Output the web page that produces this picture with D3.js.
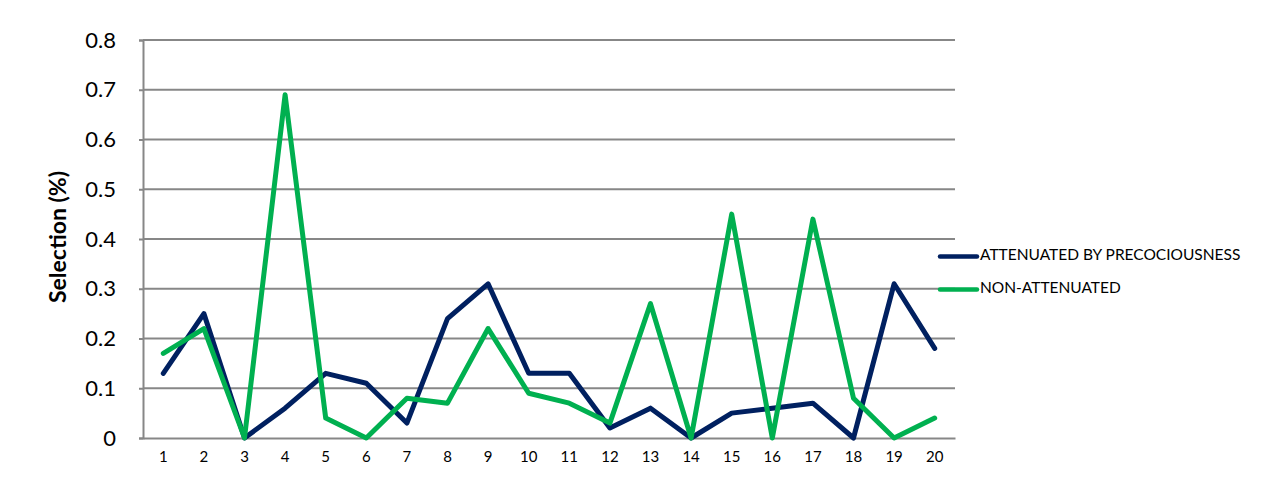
<!DOCTYPE html>
<html>
<head>
<meta charset="utf-8">
<script src="https://cdnjs.cloudflare.com/ajax/libs/d3/7.8.5/d3.min.js"></script>
<style>
  body { margin: 0; background: #fff; }
  text { font-family: Lato, "Open Sans", sans-serif; fill: #000; }
</style>
</head>
<body>
<div id="chart"></div>
<script>
var categories = d3.range(1, 21).map(String)
var attenuated = [0.13, 0.25, 0, 0.06, 0.13, 0.11, 0.03, 0.24, 0.31, 0.13, 0.13, 0.02, 0.06, 0, 0.05, 0.06, 0.07, 0, 0.31, 0.18]
var nonAttenuated = [0.17, 0.22, 0, 0.69, 0.04, 0, 0.08, 0.07, 0.22, 0.09, 0.07, 0.03, 0.27, 0, 0.45, 0, 0.44, 0.08, 0, 0.04]
var yTicks = [0, 0.1, 0.2, 0.3, 0.4, 0.5, 0.6, 0.7, 0.8]
var seriesNames = ["ATTENUATED BY PRECOCIOUSNESS", "NON-ATTENUATED"]

var W = 1288, H = 494
var margin = { left: 143, right: 333, top: 40, bottom: 56 }
var width = W - margin.left - margin.right,
    height = H - margin.top - margin.bottom

var color = d3.scaleOrdinal().domain(seriesNames).range(["#002060", "#00b050"])

var svg = d3.select("#chart").append("svg")
    .attr("width", W).attr("height", H)
  .append("g")
    .attr("transform", "translate(" + margin.left + "," + margin.top + ")")

var x = d3.scaleBand().domain(categories).range([0, width])
var y = d3.scaleLinear().domain([0, 0.8]).range([height, 0])

// grid
svg.append("g")
    .selectAll("line").data(yTicks.slice(1)).enter().append("line")
    .attr("x1", 0).attr("x2", width)
    .attr("y1", d => y(d)).attr("y2", d => y(d))
    .attr("stroke", "#878787").attr("stroke-width", 2)

// y axis
var yAxis = svg.append("g")
    .call(d3.axisLeft(y).tickValues(yTicks).tickSize(4).tickPadding(23)
      .tickFormat(d => d === 0 ? "0" : d3.format(".1f")(d)))
yAxis.select(".domain").attr("stroke", "#878787").attr("stroke-width", 2)
yAxis.selectAll(".tick line").attr("stroke", "#878787").attr("stroke-width", 2)
yAxis.selectAll(".tick text").attr("font-size", "22px").attr("font-family", "Lato, sans-serif")

// x axis
var xAxis = svg.append("g")
    .attr("transform", "translate(0," + height + ")")
    .call(d3.axisBottom(x).tickSize(0).tickPadding(13))
xAxis.select(".domain").attr("stroke", "#878787").attr("stroke-width", 2)
xAxis.selectAll(".tick text").attr("font-size", "15px").attr("font-family", "Lato, sans-serif")

svg.append("text")
    .attr("transform", "rotate(-90)")
    .attr("x", -height / 2 + 2)
    .attr("y", -77)
    .attr("text-anchor", "middle")
    .attr("font-size", "23px")
    .attr("font-weight", "bold")
    .text("Selection (%)")

var line = d3.line()
    .x((d, i) => x(categories[i]) + x.bandwidth() / 2)
    .y(d => y(d))

var allSeries = [attenuated, nonAttenuated]
svg.selectAll(".series").data(allSeries).enter().append("path")
    .attr("class", "series")
    .attr("d", line)
    .attr("fill", "none")
    .attr("stroke", (d, i) => color(seriesNames[i]))
    .attr("stroke-width", 5)
    .attr("stroke-linejoin", "round")
    .attr("stroke-linecap", "round")

// legend
var legend = svg.append("g")
    .attr("transform", "translate(" + (width - 15) + "," + (y(0.365)) + ")")
seriesNames.forEach(function(name, i) {
    legend.append("line")
        .attr("x1", 0).attr("x2", 37)
        .attr("y1", i * 33).attr("y2", i * 33)
        .attr("stroke", color(name)).attr("stroke-width", 4.5)
        .attr("stroke-linecap", "round")
    legend.append("text")
        .attr("x", 40).attr("y", i * 33)
        .attr("dominant-baseline", "middle")
        .attr("font-size", "15.5px")
        .text(name)
})
</script>
</body>
</html>
